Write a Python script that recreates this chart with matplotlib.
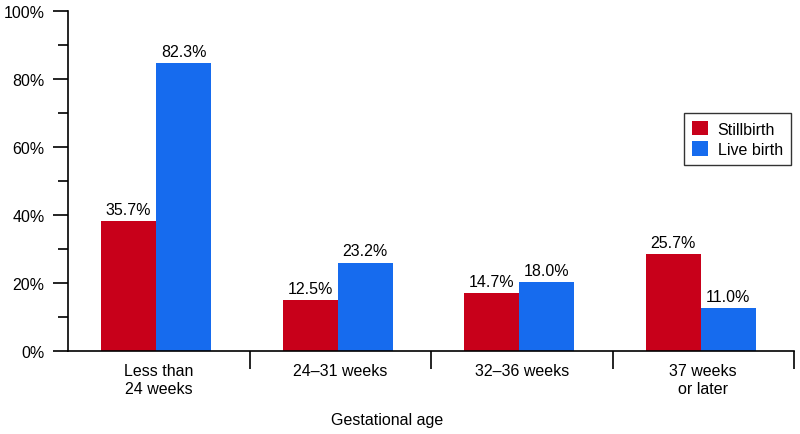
import matplotlib.pyplot as plt
import numpy as np
from matplotlib.ticker import MultipleLocator, FixedLocator, NullFormatter

plt.rcParams['font.family'] = ['Liberation Sans', 'DejaVu Sans']

# categories and series
categories = ["Less than\n24 weeks", "24\u201331 weeks", "32\u201336 weeks", "37 weeks\nor later"]
stillbirth_labels = ["35.7%", "12.5%", "14.7%", "25.7%"]
livebirth_labels = ["82.3%", "23.2%", "18.0%", "11.0%"]
# bar heights as drawn in the source chart (the source draws bars a bit above their labels)
stillbirth_heights = [38.1, 15.0, 17.0, 28.6]
livebirth_heights = [84.7, 26.0, 20.3, 12.7]

red = "#C8001A"
blue = "#166BEE"
fs = 11.5

fig = plt.figure(figsize=(8, 4.35), dpi=100)
ax = fig.add_axes([68 / 800, 1 - 352 / 435, 726 / 800, 340 / 435])

x = np.arange(len(categories)) - 0.015
w = 0.303
b1 = ax.bar(x - w / 2, stillbirth_heights, w, color=red, label="Stillbirth")
b2 = ax.bar(x + w / 2, livebirth_heights, w, color=blue, label="Live birth")

for bars, labels in ((b1, stillbirth_labels), (b2, livebirth_labels)):
    for rect, lab in zip(bars, labels):
        ax.annotate(lab, (rect.get_x() + rect.get_width() / 2, rect.get_height()),
                    xytext=(0, 3), textcoords="offset points",
                    ha="center", va="bottom", fontsize=fs)

ax.set_xlim(-0.5, 3.5)
ax.set_ylim(0, 100)

# y axis
ax.yaxis.set_major_locator(MultipleLocator(20))
ax.yaxis.set_minor_locator(MultipleLocator(10))
ax.set_yticklabels([f"{int(v)}%" for v in ax.get_yticks()])
ax.tick_params(axis="y", which="major", length=11, width=1.2, labelsize=fs, pad=6)
ax.tick_params(axis="y", which="minor", length=7, width=1.2)

# x axis: ticks at category boundaries, labels at centers
ax.xaxis.set_major_locator(FixedLocator([0.5, 1.5, 2.5, 3.5]))
ax.xaxis.set_major_formatter(NullFormatter())
ax.xaxis.set_minor_locator(FixedLocator(np.arange(len(categories))))
ax.set_xticklabels(categories, minor=True)
ax.tick_params(axis="x", which="major", length=13, width=1.2)
ax.tick_params(axis="x", which="minor", length=0, labelsize=fs, pad=9)

for s in ("top", "right"):
    ax.spines[s].set_visible(False)
for s in ("left", "bottom"):
    ax.spines[s].set_linewidth(1.2)

ax.set_xlabel("Gestational age", fontsize=fs)
ax.xaxis.set_label_coords(0.44, -0.18)

leg = ax.legend(loc="upper left", bbox_to_anchor=(608 / 726, (352 - 106) / 340),
                fontsize=fs, frameon=True, fancybox=False, handlelength=1.0,
                handleheight=1.0, handletextpad=0.6, borderpad=0.5, labelspacing=0.3)
leg.get_frame().set_edgecolor("black")
leg.get_frame().set_linewidth(1.0)

plt.savefig("out.png", dpi=100)
